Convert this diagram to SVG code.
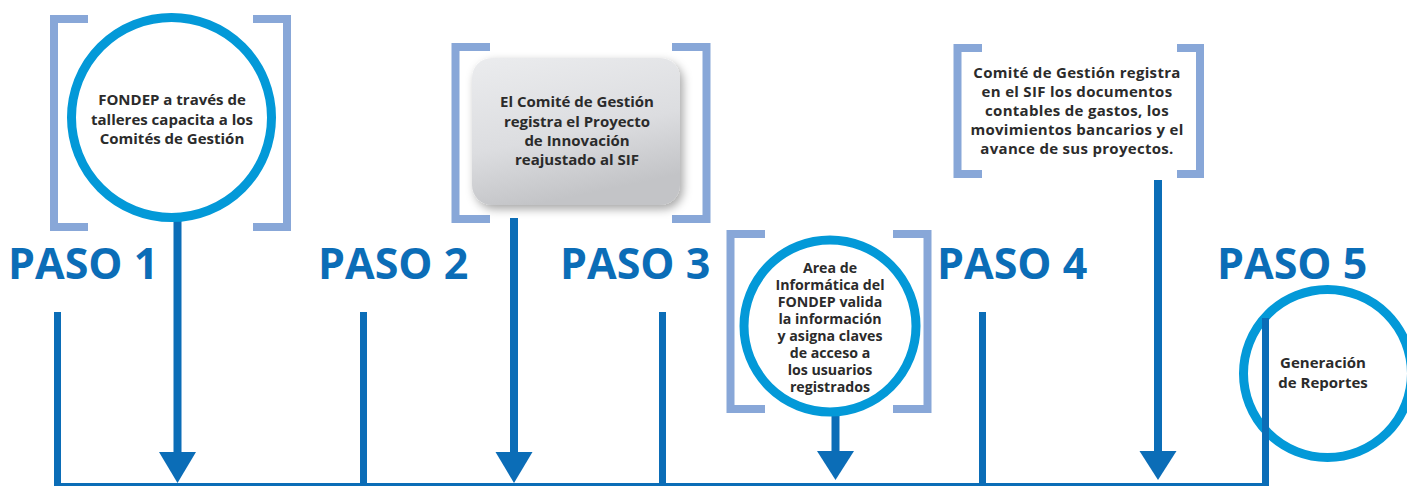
<svg xmlns="http://www.w3.org/2000/svg" width="1407" height="486" viewBox="0 0 1407 486">
<defs>
<style>
.br{fill:none;stroke:#88a7d8;stroke-width:8;stroke-linejoin:miter}
.ring{fill:#fff;stroke:#0399d8;stroke-width:9}
.paso{font-family:"Open Sans",sans-serif;font-weight:700;font-size:43px;fill:#0b6db7}
.t{font-family:"Open Sans",sans-serif;font-weight:700;font-size:15px;fill:#2b2b2b;text-anchor:middle}
.t4{letter-spacing:0.3px}
.t3{font-size:14.2px}
.ln{stroke:#0b6db7;stroke-width:7;fill:none}
.sh{stroke:#0b6db7;stroke-width:8;fill:none}
.ah{fill:#0b6db7}
</style>
<linearGradient id="gb" x1="0" y1="0" x2="0.3" y2="1">
<stop offset="0" stop-color="#ebecee"/>
<stop offset="0.6" stop-color="#dcdde0"/>
<stop offset="1" stop-color="#c3c4c7"/>
</linearGradient>
<filter id="ds" x="-20%" y="-20%" width="140%" height="140%">
<feDropShadow dx="3" dy="4" stdDeviation="5" flood-color="#000" flood-opacity="0.35"/>
</filter>
</defs>
<rect width="1407" height="486" fill="#fff"/>

<g id="connectors">
<line class="ln" x1="57.5" y1="312" x2="57.5" y2="486"/>
<line class="ln" x1="363.5" y1="312" x2="363.5" y2="486"/>
<line class="ln" x1="662.5" y1="312" x2="662.5" y2="486"/>
<line class="ln" x1="982.5" y1="312" x2="982.5" y2="486"/>
<line x1="54" y1="484.5" x2="1269" y2="484.5" stroke="#0b6db7" stroke-width="3"/>
<line class="sh" x1="177.5" y1="220" x2="177.5" y2="455"/>
<polygon class="ah" points="159,452 196,452 177.5,483"/>
<line class="sh" x1="514" y1="218" x2="514" y2="455"/>
<polygon class="ah" points="495.5,452 532.5,452 514,483"/>
<line class="sh" x1="835.5" y1="414" x2="835.5" y2="454"/>
<polygon class="ah" points="817,451 854,451 835.5,480"/>
<line class="sh" x1="1158" y1="180" x2="1158" y2="454"/>
<polygon class="ah" points="1139.5,451 1176.5,451 1158,480"/>
</g>

<g id="paso1">
<path class="br" d="M88,19 H54 V227 H88"/>
<path class="br" d="M253,19 H287 V227 H253"/>
<circle class="ring" cx="171.5" cy="117.5" r="100"/>
<text class="t" x="172" y="105">FONDEP a través de</text>
<text class="t" x="172" y="125">talleres capacita a los</text>
<text class="t" x="172" y="144">Comités de Gestión</text>
<text class="paso" x="8" y="279">PASO 1</text>
</g>

<g id="paso2">
<path class="br" d="M490,47 H455.5 V219 H490"/>
<path class="br" d="M672,47 H706.5 V219 H672"/>
<rect x="472" y="58" width="208" height="147" rx="20" fill="url(#gb)" filter="url(#ds)"/>
<text class="t" x="577" y="107">El Comité de Gestión</text>
<text class="t" x="577" y="127">registra el Proyecto</text>
<text class="t" x="577" y="146">de Innovación</text>
<text class="t" x="577" y="165">reajustado al SIF</text>
<text class="paso" x="318" y="279">PASO 2</text>
</g>

<g id="paso3">
<path class="br" d="M765,234 H730.5 V409 H765"/>
<path class="br" d="M893,234 H927.5 V409 H893"/>
<circle class="ring" cx="830" cy="326" r="86"/>
<text class="t t3" x="830" y="273">Area de</text>
<text class="t t3" x="830" y="290">Informática del</text>
<text class="t t3" x="830" y="307">FONDEP valida</text>
<text class="t t3" x="830" y="324">la información</text>
<text class="t t3" x="830" y="341">y asigna claves</text>
<text class="t t3" x="830" y="358">de acceso a</text>
<text class="t t3" x="830" y="375">los usuarios</text>
<text class="t t3" x="830" y="392">registrados</text>
<text class="paso" x="560" y="279">PASO 3</text>
</g>

<g id="paso4">
<path class="br" d="M982,48 H957.5 V174 H982"/>
<path class="br" d="M1177,48 H1200 V174 H1177"/>
<text class="t t4" x="1077" y="78">Comité de Gestión registra</text>
<text class="t t4" x="1077" y="97">en el SIF los documentos</text>
<text class="t t4" x="1077" y="116">contables de gastos, los</text>
<text class="t t4" x="1077" y="135">movimientos bancarios y el</text>
<text class="t t4" x="1077" y="154">avance de sus proyectos.</text>
<text class="paso" x="937" y="279">PASO 4</text>
</g>

<g id="paso5">
<circle class="ring" cx="1327.5" cy="373.5" r="84"/>
<line class="ln" x1="1265.5" y1="318" x2="1265.5" y2="486"/>
<text class="t" x="1323" y="368">Generación</text>
<text class="t" x="1323" y="388">de Reportes</text>
<text class="paso" x="1217" y="279">PASO 5</text>
</g>
</svg>
